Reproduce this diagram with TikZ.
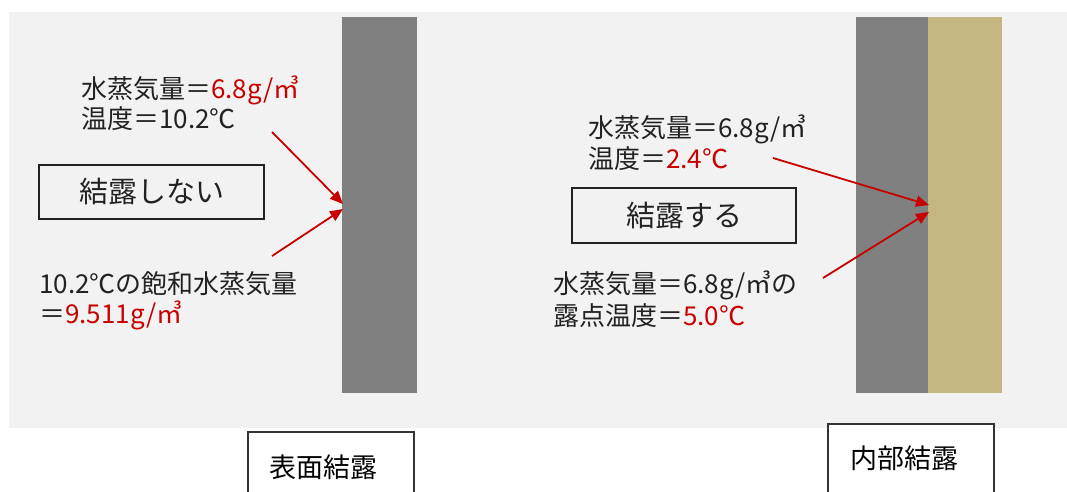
\documentclass[tikz,border=0pt]{standalone}
\usepackage{fontspec}
\setmainfont{Noto Sans CJK JP}
\newfontfamily\cjk{Noto Sans CJK JP}
\usetikzlibrary{arrows.meta}
\definecolor{bgc}{HTML}{F2F2F2}
\definecolor{wallc}{HTML}{808080}
\definecolor{tanc}{HTML}{C4B680}
\definecolor{redc}{HTML}{C80000}
\definecolor{txtc}{HTML}{222222}
\tikzset{
  lbl/.style={anchor=base west, inner sep=0pt, text=txtc, font=\cjk\fontsize{26}{30}\selectfont},
  boxlbl/.style={draw=txtc, line width=1.2pt, inner sep=0pt, text=txtc, font=\cjk\fontsize{29}{32}\selectfont},
  caplbl/.style={inner sep=0pt, text=black, font=\cjk\fontsize{27}{30}\selectfont},
  capbox/.style={draw=black!80, line width=1.2pt, fill=white},
  arr/.style={draw=redc, line width=1.8pt, -{Triangle[length=13pt,width=11pt]}},
  red/.style={text=redc}
}
\begin{document}
\begin{tikzpicture}[x=1pt,y=-1pt]
\useasboundingbox (0,0) rectangle (1067,491);
% background
\fill[bgc] (9,12) rectangle (1067,428);
% walls
\fill[wallc] (342,17) rectangle (417,393);
\fill[wallc] (856,17) rectangle (928,393);
\fill[tanc] (928,17) rectangle (1002,393);

% left texts
\node[lbl] (l1) at (81,98) {水蒸気量＝\textcolor{redc}{6.8g/㎥}};
\node[lbl] (l2) at (81,128) {温度＝10.2℃};
\node[lbl] (l3) at (39,293) {10.2℃の飽和水蒸気量};
\node[lbl] (l4) at (39,323) {＝\textcolor{redc}{9.511g/㎥}};
\node[boxlbl, minimum width=225pt, minimum height=54pt] (nb) at (151.5,192) {結露しない};

% right texts
\node[lbl] (r1) at (588,137) {水蒸気量＝6.8g/㎥};
\node[lbl] (r2) at (588,168) {温度＝\textcolor{redc}{2.4℃}};
\node[lbl] (r3) at (553,293) {水蒸気量＝6.8g/㎥の};
\node[lbl] (r4) at (553,325) {露点温度＝\textcolor{redc}{5.0℃}};
\node[boxlbl, minimum width=224pt, minimum height=55pt] (yb) at (684,215.5) {結露する};

% arrows
\coordinate (la1) at (272,132);
\coordinate (lt1) at (343,204);
\coordinate (la2) at (272,256);
\coordinate (lt2) at (343,209);
\draw[arr] (la1) -- (lt1);
\draw[arr] (la2) -- (lt2);
\coordinate (ra1) at (773,158);
\coordinate (rt1) at (929,205);
\coordinate (ra2) at (823,278);
\coordinate (rt2) at (929,212);
\draw[arr] (ra1) -- (rt1);
\draw[arr] (ra2) -- (rt2);

% caption boxes
\draw[capbox] (248,520) rectangle (414,432);
\node[caplbl] (c1) at (323.5,467) {表面結露};
\draw[capbox] (828,520) rectangle (994,424);
\node[caplbl] (c2) at (904.5,458) {内部結露};
\end{tikzpicture}
\end{document}
